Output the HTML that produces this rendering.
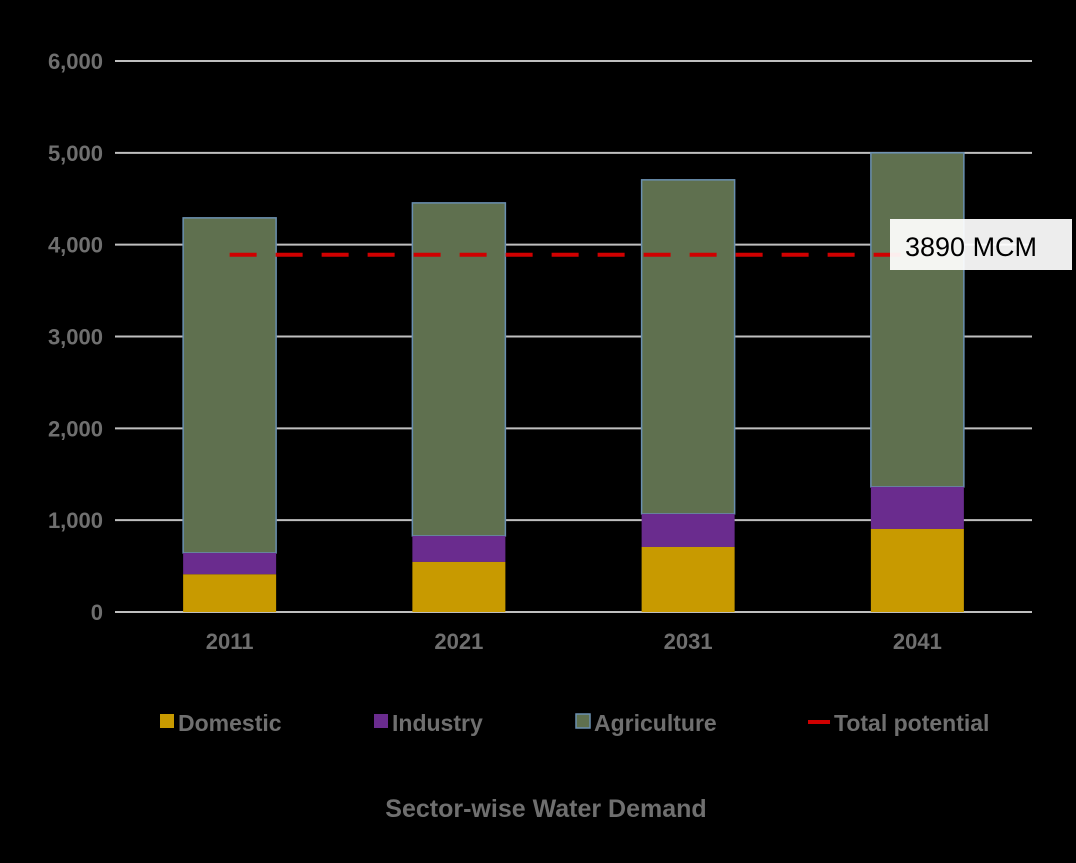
<!DOCTYPE html>
<html><head><meta charset="utf-8"><style>
body{margin:0;background:#000;}
svg{display:block;}
text{font-family:"Liberation Sans",sans-serif;}
</style></head><body>
<svg id="chart" width="1076" height="863" viewBox="0 0 1076 863" xmlns="http://www.w3.org/2000/svg">
<rect width="1076" height="863" fill="#000"/>
<g id="grid"></g><g id="bars"></g><g id="line"></g><g id="labels"></g>
<g font-size="23" fill="#6f6f6f" font-weight="bold">
 <g><rect x="160" y="714" width="14" height="14" fill="#c89a00"/><text x="178" y="731" fill="#6f6f6f">Domestic</text></g>
 <g><rect x="374" y="714" width="14" height="14" fill="#6a2c8e"/><text x="392" y="731" fill="#6f6f6f">Industry</text></g>
 <g><rect x="576" y="714" width="14" height="14" fill="#5f704f" stroke="#6a8fb0" stroke-width="1.5"/><text x="594" y="731" fill="#6f6f6f">Agriculture</text></g>
 <g><rect x="808" y="720" width="22" height="4" fill="#d00000"/><text x="834" y="731" fill="#6f6f6f">Total potential</text></g>
</g>
<text x="546" y="817" text-anchor="middle" font-size="25" fill="#6f6f6f" font-weight="bold">Sector-wise Water Demand</text>
<g><rect x="890" y="219" width="182" height="51" fill="#fff" fill-opacity="0.93"/><text x="905" y="256" font-size="27" fill="#000">3890 MCM</text></g>
</svg>
<script>
const categories=["2011","2021","2031","2041"];
const domestic=[410,545,708,904];
const industry=[233,283,360,458];
const agriculture=[3649,3627,3638,3638];
const potential=3890;
const yTicks=[0,1000,2000,3000,4000,5000,6000];
const yTickLabels=["0","1,000","2,000","3,000","4,000","5,000","6,000"];
const NS="http://www.w3.org/2000/svg";
const L=115,R=1032,Y0=612,Y1=61,YMAX=6000;
const y=v=>Y0-(v/YMAX)*(Y0-Y1);
const band=(R-L)/categories.length;
const xc=i=>L+band*(i+0.5);
const bw=93;
function mk(t,a,p){const e=document.createElementNS(NS,t);for(const k in a)e.setAttribute(k,a[k]);p.appendChild(e);return e;}
const grid=document.getElementById('grid'),bars=document.getElementById('bars'),line=document.getElementById('line'),labels=document.getElementById('labels');
yTicks.forEach((v,i)=>{
 const g=mk('line',{x1:L,x2:R,y1:y(v),y2:y(v),stroke:'#bfbfbf','stroke-width':2},grid);
 
 
 const t=mk('text',{x:103,y:y(v)+8,'text-anchor':'end','font-size':22,fill:'#6f6f6f','font-weight':'bold'},labels);
 t.textContent=yTickLabels[i];
 
 
});
categories.forEach((c,i)=>{
 const x=xc(i)-bw/2;
 const d=domestic[i],n=industry[i],a=agriculture[i];
 const ra=mk('rect',{x:x,y:y(d+n+a),width:bw,height:y(d+n)-y(d+n+a),fill:'#5f704f',stroke:'#6a8fb0','stroke-width':1.5},bars);
 
 
 const ri=mk('rect',{x:x,y:y(d+n),width:bw,height:y(d)-y(d+n),fill:'#6a2c8e'},bars);
 
 
 const rd=mk('rect',{x:x,y:y(d),width:bw,height:y(0)-y(d),fill:'#c89a00'},bars);
 
 
 const t=mk('text',{x:xc(i),y:649,'text-anchor':'middle','font-size':22,fill:'#6f6f6f','font-weight':'bold'},labels);
 t.textContent=c;
 
 
});
const pl=mk('line',{x1:xc(0),x2:xc(categories.length-1),y1:y(potential),y2:y(potential),stroke:'#d00000','stroke-width':4,'stroke-dasharray':'27 19'},line);


</script>
</body></html>
